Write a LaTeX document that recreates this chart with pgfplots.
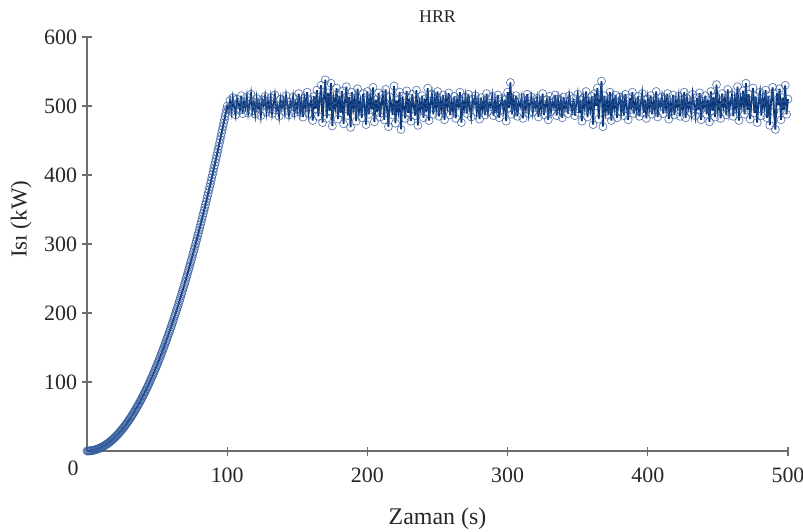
\documentclass[border=0pt]{standalone}
\usepackage{pgfplots}
\pgfplotsset{compat=1.18}
\usepackage{fontspec}
\setmainfont{Liberation Serif}
\definecolor{lineblue}{RGB}{10,55,120}
\definecolor{markblue}{RGB}{55,95,160}
\definecolor{axgray}{RGB}{110,110,110}
\begin{document}
\begin{tikzpicture}
\useasboundingbox (-87bp,-81bp) rectangle (716bp,451bp);
\begin{axis}[
  scale only axis, width=701bp, height=414bp,
  xmin=0, xmax=500, ymin=0, ymax=600,
  axis lines=left,
  axis line style={axgray, line width=1.1pt, -},
  every tick/.style={axgray, line width=1.1pt},
  tick align=center, major tick length=9bp,
  xtick={100,200,300,400,500}, ytick={100,200,300,400,500,600},
  /pgf/number format/assume math mode=true,
  ticklabel style={font=\fontsize{22}{24}\selectfont, text=black!85},
  xticklabel style={yshift=-9bp},
  yticklabel style={xshift=-2bp},
  title={HRR},
  title style={at={(0.5,1)}, anchor=south, inner sep=0pt, yshift=8bp, font=\fontsize{18}{20}\selectfont, text=black!85},
  xlabel={Zaman (s)},
  xlabel style={at={(axis description cs:0.5,0)}, anchor=north, inner sep=0pt, yshift=-57bp, font=\fontsize{24}{26}\selectfont, text=black!85},
  ylabel={Isı (kW)},
  ylabel style={at={(axis description cs:-0.094,0.56)}, anchor=center, inner sep=0pt, font=\fontsize{23}{25}\selectfont, text=black!85},
  clip=false,
]
\addplot[lineblue, line width=1.4pt, mark=o, mark size=4bp,
  mark options={draw=markblue, draw opacity=0.8, line width=0.7pt}]
coordinates {
(0.5,0.01)(1.5,0.11)(2.5,0.31)(3.5,0.61)(4.5,1.01)(5.5,1.51)(6.5,2.11)(7.5,2.81)(8.5,3.61)(9.5,4.51)
(10.5,5.51)(11.5,6.61)(12.5,7.81)(13.5,9.11)(14.5,10.51)(15.5,12.01)(16.5,13.61)(17.5,15.31)(18.5,17.11)(19.5,19.01)
(20.5,21.01)(21.5,23.11)(22.5,25.31)(23.5,27.61)(24.5,30.01)(25.5,32.51)(26.5,35.11)(27.5,37.81)(28.5,40.61)(29.5,43.51)
(30.5,46.51)(31.5,49.61)(32.5,52.81)(33.5,56.11)(34.5,59.51)(35.5,63.01)(36.5,66.61)(37.5,70.31)(38.5,74.11)(39.5,78.01)
(40.5,82.01)(41.5,86.11)(42.5,90.31)(43.5,94.61)(44.5,99.01)(45.5,103.51)(46.5,108.11)(47.5,112.81)(48.5,117.61)(49.5,122.51)
(50.5,127.51)(51.5,132.61)(52.5,137.81)(53.5,143.11)(54.5,148.51)(55.5,154.01)(56.5,159.61)(57.5,165.31)(58.5,171.11)(59.5,177.01)
(60.5,183.01)(61.5,189.11)(62.5,195.31)(63.5,201.61)(64.5,208.01)(65.5,214.51)(66.5,221.11)(67.5,227.81)(68.5,234.61)(69.5,241.51)
(70.5,248.51)(71.5,255.61)(72.5,262.81)(73.5,270.11)(74.5,277.51)(75.5,285.01)(76.5,292.61)(77.5,300.31)(78.5,308.11)(79.5,316.01)
(80.5,324.01)(81.5,332.11)(82.5,340.31)(83.5,348.61)(84.5,357.01)(85.5,365.51)(86.5,374.11)(87.5,382.81)(88.5,391.61)(89.5,400.51)
(90.5,409.51)(91.5,418.61)(92.5,427.81)(93.5,437.11)(94.5,446.51)(95.5,456.01)(96.5,465.61)(97.5,475.31)(98.5,485.11)(99.5,495.01)
};
\addplot[lineblue, line width=1.8pt, mark=o, mark size=4bp,
  mark options={draw=markblue, draw opacity=0.8, line width=0.7pt}]
coordinates {
(0,0)(1,0.05)(2,0.2)(3,0.45)(4,0.8)(5,1.25)(6,1.8)(7,2.45)(8,3.2)(9,4.05)
(10,5)(11,6.05)(12,7.2)(13,8.45)(14,9.8)(15,11.25)(16,12.8)(17,14.45)(18,16.2)(19,18.05)
(20,20)(21,22.05)(22,24.2)(23,26.45)(24,28.8)(25,31.25)(26,33.8)(27,36.45)(28,39.2)(29,42.05)
(30,45)(31,48.05)(32,51.2)(33,54.45)(34,57.8)(35,61.25)(36,64.8)(37,68.45)(38,72.2)(39,76.05)
(40,80)(41,84.05)(42,88.2)(43,92.45)(44,96.8)(45,101.25)(46,105.8)(47,110.45)(48,115.2)(49,120.05)
(50,125)(51,130.05)(52,135.2)(53,140.45)(54,145.8)(55,151.25)(56,156.8)(57,162.45)(58,168.2)(59,174.05)
(60,180)(61,186.05)(62,192.2)(63,198.45)(64,204.8)(65,211.25)(66,217.8)(67,224.45)(68,231.2)(69,238.05)
(70,245)(71,252.05)(72,259.2)(73,266.45)(74,273.8)(75,281.25)(76,288.8)(77,296.45)(78,304.2)(79,312.05)
(80,320)(81,328.05)(82,336.2)(83,344.45)(84,352.8)(85,361.25)(86,369.8)(87,378.45)(88,387.2)(89,396.05)
(90,405)(91,414.05)(92,423.2)(93,432.45)(94,441.8)(95,451.25)(96,460.8)(97,470.45)(98,480.2)(99,490.05)
(100,500)
(101,495)(102,508)(103,492)(104,512)(105,499)(106,487)(107,510)(108,503)(109,494)(110,515)
(111,489)(112,506)(113,498)(114,513)(115,490)(116,502)(117,517)(118,493)(119,505)(120,488)
(121,511)(122,497)(123,504)(124,486)(125,509)(126,501)(127,514)(128,491)(129,507)(130,496)
(131,512)(132,489)(133,503)(134,516)(135,494)(136,500)(137,485)(138,510)(139,498)(140,508)
(141,492)(142,515)(143,501)(144,487)(145,506)(146,499)(147,513)(148,490)(149,504)(150,495)
(151,518)(152,491)(153,507)(154,484)(155,511)(156,497)(157,520)(158,489)(159,503)(160,509)
(161,479)(162,514)(163,496)(164,523)(165,485)(166,508)(167,530)(168,476)(169,512)(170,538)
(171,482)(172,519)(173,493)(174,533)(175,471)(176,510)(177,498)(178,526)(179,481)(180,515)
(181,490)(182,522)(183,474)(184,507)(185,528)(186,486)(187,513)(188,469)(189,520)(190,497)
(191,511)(192,478)(193,525)(194,492)(195,506)(196,483)(197,518)(198,500)(199,473)(200,521)
(201,488)(202,512)(203,495)(204,527)(205,477)(206,509)(207,491)(208,519)(209,484)(210,505)
(211,516)(212,480)(213,524)(214,496)(215,470)(216,513)(217,502)(218,487)(219,529)(220,475)
(221,508)(222,493)(223,520)(224,466)(225,514)(226,498)(227,482)(228,522)(229,490)(230,511)
(231,478)(232,517)(233,501)(234,486)(235,523)(236,472)(237,506)(238,495)(239,515)(240,483)
(241,510)(242,491)(243,526)(244,479)(245,504)(246,517)(247,488)(248,512)(249,497)(250,521)
(251,485)(252,508)(253,494)(254,516)(255,480)(256,511)(257,499)(258,519)(259,487)(260,506)
(261,493)(262,514)(263,482)(264,509)(265,501)(266,520)(267,476)(268,507)(269,496)(270,513)
(271,489)(272,517)(273,498)(274,484)(275,510)(276,503)(277,515)(278,491)(279,506)(280,481)
(281,512)(282,495)(283,508)(284,487)(285,518)(286,492)(287,504)(288,499)(289,514)(290,486)
(291,507)(292,490)(293,516)(294,483)(295,502)(296,511)(297,494)(298,509)(299,478)(300,520)
(301,497)(302,534)(303,488)(304,510)(305,493)(306,515)(307,485)(308,505)(309,500)(310,512)
(311,482)(312,508)(313,496)(314,517)(315,489)(316,503)(317,513)(318,491)(319,506)(320,498)
(321,511)(322,484)(323,507)(324,495)(325,518)(326,487)(327,502)(328,509)(329,480)(330,514)
(331,492)(332,505)(333,499)(334,516)(335,486)(336,510)(337,494)(338,508)(339,483)(340,513)
(341,497)(342,506)(343,489)(344,515)(345,501)(346,493)(347,511)(348,486)(349,504)(350,517)
(351,490)(352,509)(353,478)(354,512)(355,498)(356,521)(357,484)(358,507)(359,495)(360,514)
(361,473)(362,518)(363,500)(364,526)(365,481)(366,510)(367,536)(368,470)(369,515)(370,492)
(371,508)(372,487)(373,520)(374,479)(375,511)(376,497)(377,516)(378,483)(379,505)(380,513)
(381,491)(382,509)(383,486)(384,517)(385,499)(386,480)(387,512)(388,495)(389,520)(390,489)
(391,506)(392,493)(393,514)(394,485)(395,503)(396,518)(397,490)(398,509)(399,482)(400,511)
(401,497)(402,515)(403,488)(404,507)(405,494)(406,521)(407,484)(408,506)(409,500)(410,513)
(411,489)(412,510)(413,496)(414,518)(415,481)(416,505)(417,492)(418,516)(419,487)(420,508)
(421,499)(422,514)(423,485)(424,509)(425,495)(426,520)(427,483)(428,511)(429,497)(430,506)
(431,490)(432,517)(433,502)(434,486)(435,512)(436,494)(437,519)(438,480)(439,507)(440,498)
(441,515)(442,488)(443,509)(444,477)(445,521)(446,493)(447,513)(448,484)(449,531)(450,495)
(451,508)(452,482)(453,518)(454,499)(455,511)(456,487)(457,524)(458,491)(459,505)(460,516)
(461,485)(462,510)(463,496)(464,528)(465,479)(466,512)(467,500)(468,522)(469,488)(470,533)
(471,494)(472,517)(473,481)(474,509)(475,526)(476,490)(477,514)(478,476)(479,507)(480,520)
(481,486)(482,511)(483,498)(484,523)(485,483)(486,515)(487,472)(488,509)(489,527)(490,492)
(491,466)(492,519)(493,501)(494,525)(495,480)(496,512)(497,494)(498,530)(499,488)(500,510)
};
\node[font=\fontsize{22}{24}\selectfont, text=black!85, anchor=center] at ([xshift=-14bp,yshift=-17bp]axis cs:0,0) {0};
\end{axis}
\end{tikzpicture}
\end{document}
